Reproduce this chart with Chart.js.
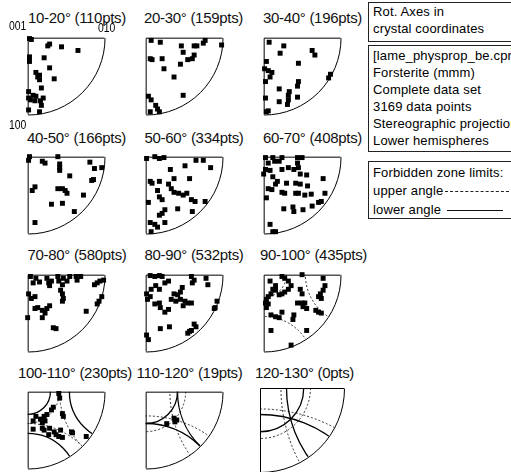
<!DOCTYPE html>
<html>
<head>
<meta charset="utf-8">
<script src="https://cdn.jsdelivr.net/npm/chart.js@4.4.0/dist/chart.umd.min.js"></script>
<style>
  html, body { margin: 0; padding: 0; background: #fff; overflow: hidden; }
  #wrap { position: relative; width: 511px; height: 472px; overflow: hidden; }
  canvas.pf { position: absolute; }
  .ttl { position: absolute; font: 15px "Liberation Sans", Arial, sans-serif; letter-spacing: -0.3px;
         line-height: 15px; white-space: nowrap; color: #111; transform: translateX(-50%); }
  .pole { position: absolute; font: 13px "Liberation Sans", Arial, sans-serif; line-height: 13px;
          color: #000; transform: scaleX(0.8); transform-origin: 0 0; white-space: nowrap; }
  .box { position: absolute; left: 368px; width: 160px; border: 1px solid #222; border-right: none; }
  .lg { position: absolute; left: 373px; font: 13px "Liberation Sans", Arial, sans-serif; letter-spacing: 0.15px;
        line-height: 17px; white-space: nowrap; color: #000; }
  .dash { position: absolute; height: 0; border-top: 1px dashed #222; }
  .solid { position: absolute; height: 0; border-top: 1px solid #111; }
</style>
</head>
<body>
<div id="wrap"></div>
<script>
// Misorientation rotation axes in crystal coordinates, one quarter stereogram per 10° bin.
// Coordinates: x towards [010], y towards [100], origin at [001]; primitive radius PROJ_R.
const PROJ_R = 84;

const binLow      = [10, 20, 30, 40, 50, 60, 70, 80, 90, 100, 110, 120];
const binHigh     = [20, 30, 40, 50, 60, 70, 80, 90, 100, 110, 120, 130];
const pointCounts = [110, 159, 196, 166, 334, 408, 580, 532, 435, 230, 19, 0];

// Half-angle (deg) of the forbidden cone around each 2-fold axis at a given rotation angle
const zoneAngles     = [100, 110, 120, 130];
const zoneHalfAngles = [33, 45, 55, 62];
const zonePoles      = ['001', '010', '100'];

const axes10to20 = [[2,1],[4,2],[24,7],[22,9],[37,10],[55,14],[2,21],[2,26],[18,22],[24,33],[9,38],[13,41],
  [13,46],[11,43],[29,45],[15,55],[1,59],[1,66],[6,63],[9,64],[17,66],[8,69],[3,68],[14,69],[1,79],[13,81],[15,74]];
const axes20to30 = [[6,3],[16,5],[5,23],[7,24],[18,23],[39,9],[41,16],[46,24],[38,29],[53,9],[56,9],[65,3],
  [63,6],[83,8],[53,19],[51,23],[20,34],[31,43],[41,63],[3,64],[11,74],[13,78],[15,81],[5,81],[6,68]];
const axes30to40 = [[6,5],[22,9],[18,17],[53,14],[56,19],[38,28],[3,26],[1,34],[5,36],[9,38],[7,43],[2,48],
  [38,48],[37,53],[17,56],[73,40],[71,44],[28,59],[27,63],[27,68],[26,73],[17,70],[37,65],[2,66],[3,81],[5,80]];
const axes40to50 = [[2,0],[1,4],[16,5],[19,7],[33,0],[35,8],[35,12],[68,6],[35,15],[73,13],[81,12],[72,25],
  [70,26],[46,21],[8,33],[5,37],[33,35],[38,35],[41,37],[61,42],[43,40],[26,52],[38,51],[51,60],[8,72]];
const axes50to60 = [[1,2],[10,0],[15,2],[20,1],[27,14],[43,10],[63,4],[55,4],[71,12],[5,27],[7,29],[15,27],
  [31,24],[48,24],[25,30],[13,37],[28,35],[31,39],[36,40],[41,42],[45,40],[15,44],[18,47],[50,47],[54,49],
  [65,49],[3,50],[21,58],[15,64],[18,62],[35,57],[51,60],[5,72],[10,74],[13,77],[21,72],[6,82]];
const axes60to70 = [[2,1],[10,1],[20,1],[5,7],[12,5],[17,5],[37,1],[42,1],[2,14],[7,15],[20,14],[27,12],
  [33,14],[38,12],[37,7],[0,19],[10,22],[15,27],[13,30],[40,19],[47,20],[25,29],[35,29],[40,30],[5,35],[9,36],
  [48,32],[65,24],[20,39],[23,40],[35,40],[38,40],[45,42],[52,41],[67,40],[63,49],[60,50],[3,45],[22,57],
  [32,55],[33,60],[43,58],[53,54],[7,74],[10,82],[13,82]];
const axes70to80 = [[3,2],[9,4],[6,9],[13,8],[21,4],[23,9],[26,7],[24,12],[33,2],[34,7],[38,11],[39,4],
  [43,7],[46,2],[53,2],[58,2],[54,6],[36,17],[38,21],[39,26],[38,29],[73,11],[76,9],[79,7],[83,6],[1,21],
  [8,24],[4,26],[81,24],[78,29],[76,32],[8,37],[11,36],[16,39],[21,37],[24,34],[19,42],[16,47],[0,47],
  [64,40],[28,58],[31,59]];
const axes80to90 = [[5,1],[10,2],[15,1],[18,2],[21,9],[25,7],[6,16],[11,12],[15,16],[1,21],[5,24],[2,27],
  [40,14],[38,19],[35,22],[31,21],[28,27],[33,29],[38,27],[43,29],[46,31],[50,31],[25,38],[21,41],[41,34],
  [10,32],[15,31],[16,36],[16,59],[26,57],[1,66],[3,71],[48,62],[50,2],[53,6],[51,9],[66,4],[68,11],[78,29],
  [76,36],[75,37],[53,54],[55,57],[50,61],[46,64]];
const axes90to100 = [[7,7],[10,16],[13,17],[8,21],[13,12],[20,2],[23,4],[27,7],[30,12],[27,16],[23,19],
  [20,21],[17,22],[5,24],[3,27],[2,31],[5,32],[3,36],[42,0],[40,16],[42,21],[37,31],[42,31],[45,31],[65,4],
  [67,12],[65,17],[62,21],[60,24],[63,26],[47,37],[43,35],[57,39],[60,41],[63,42],[20,41],[8,44],[13,46],
  [17,47],[33,44],[32,49],[8,61],[47,61],[30,77]];
const axes100to110 = [[34,2],[35,7],[28,17],[26,20],[18,27],[21,25],[14,30],[19,32],[16,34],[9,27],[6,32],
  [38,24],[39,27],[6,41],[16,40],[18,42],[24,40],[29,44],[31,47],[34,49],[38,50],[36,42],[23,47],[48,44],
  [49,45],[64,49]];
const axes110to120 = [[31,29],[34,31],[32,33],[23,35]];
const axes120to130 = [];

const binAxes = [axes10to20, axes20to30, axes30to40, axes40to50, axes50to60, axes60to70,
                 axes70to80, axes80to90, axes90to100, axes100to110, axes110to120, axes120to130];

// Layout of the 4 x 3 grid of stereograms ([001] corner of each one)
const colX = [24, 142, 260];
const rowY = [34, 153, 271, 388];
const titleCenters = [77, 193.5, 312.5, 76.5, 194, 312.5, 77, 194, 313.5, 75, 189.5, 304.5];
const titleTops = [10, 130, 247, 365];
const PAD = 4;

function halfAngleAt(omega) {
  const i = zoneAngles.indexOf(omega);
  return i < 0 ? null : zoneHalfAngles[i];
}

// Small circle of angular radius psi around a 2-fold axis, in stereographic coordinates
function poleCircle(pole, psiDeg) {
  const p = psiDeg * Math.PI / 180;
  if (pole === '001') return { cx: 0, cy: 0, r: PROJ_R * Math.tan(p / 2) };
  if (pole === '010') return { cx: PROJ_R / Math.cos(p), cy: 0, r: PROJ_R * Math.tan(p) };
  return { cx: 0, cy: PROJ_R / Math.cos(p), r: PROJ_R * Math.tan(p) };
}

const stereoFrame = {
  id: 'stereoFrame',
  beforeDatasetsDraw(chart, args, opts) {
    const { ctx, scales: { x, y } } = chart;
    const ox = x.getPixelForValue(0), oy = y.getPixelForValue(0);
    const r = x.getPixelForValue(PROJ_R) - ox;
    const unit = x.getPixelForValue(1) - ox;

    // forbidden-zone limits, clipped to the quarter disc
    ctx.save();
    ctx.beginPath();
    ctx.moveTo(ox, oy);
    ctx.lineTo(ox + r, oy);
    ctx.arc(ox, oy, r, 0, Math.PI / 2);
    ctx.closePath();
    ctx.clip();
    const drawSet = (psi, dashed) => {
      if (psi == null) return;
      ctx.setLineDash(dashed ? [2, 2] : []);
      ctx.lineWidth = dashed ? 1 : 1.3;
      ctx.strokeStyle = dashed ? '#333' : '#000';
      zonePoles.forEach(pole => {
        const c = poleCircle(pole, psi);
        ctx.beginPath();
        ctx.arc(x.getPixelForValue(c.cx), y.getPixelForValue(c.cy), c.r * unit, 0, Math.PI * 2);
        ctx.stroke();
      });
    };
    drawSet(halfAngleAt(opts.high), true);
    drawSet(halfAngleAt(opts.low), false);
    ctx.restore();

    // primitive quadrant frame
    ctx.save();
    ctx.strokeStyle = '#000';
    ctx.lineWidth = 1;
    ctx.setLineDash([]);
    ctx.beginPath();
    ctx.moveTo(ox + r, oy + 0.5);
    ctx.lineTo(ox + 0.5, oy + 0.5);
    ctx.lineTo(ox + 0.5, oy + r);
    ctx.stroke();
    ctx.beginPath();
    ctx.arc(ox + 0.5, oy + 0.5, r, 0, Math.PI / 2);
    ctx.stroke();
    ctx.restore();
  }
};

const wrap = document.getElementById('wrap');

binAxes.forEach((pts, i) => {
  const col = i % 3, row = Math.floor(i / 3);
  const cv = document.createElement('canvas');
  const size = PROJ_R + 2 * PAD + 2;
  cv.width = size; cv.height = size;
  cv.className = 'pf';
  cv.style.left = (colX[col] - PAD) + 'px';
  cv.style.top = (rowY[row] - PAD) + 'px';
  wrap.appendChild(cv);

  new Chart(cv, {
    type: 'scatter',
    data: {
      datasets: [{
        data: pts.map(([a, b]) => ({ x: a, y: b })),
        pointStyle: 'rect',
        pointRadius: 3.5,
        pointBorderWidth: 0,
        backgroundColor: '#000',
        borderColor: '#000',
        clip: false
      }]
    },
    options: {
      responsive: false,
      animation: false,
      events: [],
      layout: { padding: 0 },
      scales: {
        x: { type: 'linear', display: false, min: -PAD, max: size - PAD },
        y: { type: 'linear', display: false, min: -PAD, max: size - PAD, reverse: true }
      },
      plugins: {
        legend: { display: false },
        tooltip: { enabled: false },
        stereoFrame: { low: binLow[i], high: binHigh[i] }
      }
    },
    plugins: [stereoFrame]
  });

  const t = document.createElement('div');
  t.className = 'ttl';
  t.textContent = binLow[i] + '-' + binHigh[i] + '° (' + pointCounts[i] + 'pts)';
  t.style.left = titleCenters[i] + 'px';
  t.style.top = titleTops[row] + 'px';
  wrap.appendChild(t);
});

// axis labels of the first stereogram
[['001', 9, 19], ['010', 98, 21], ['100', 9, 118]].forEach(([txt, l, tp]) => {
  const d = document.createElement('div');
  d.className = 'pole';
  d.textContent = txt;
  d.style.left = l + 'px';
  d.style.top = tp + 'px';
  wrap.appendChild(d);
});

// information boxes
const infoHeader = ['Rot. Axes in', 'crystal coordinates'];
const infoLines = ['[lame_physprop_be.cpr]', 'Forsterite (mmm)', 'Complete data set',
                   '3169 data points', 'Stereographic projection', 'Lower hemispheres'];
const zoneLegend = ['Forbidden zone limits:', 'upper angle', 'lower angle'];

function addBox(top, height) {
  const b = document.createElement('div');
  b.className = 'box';
  b.style.top = top + 'px';
  b.style.height = height + 'px';
  wrap.appendChild(b);
}
function addLine(txt, centerY) {
  const d = document.createElement('div');
  d.className = 'lg';
  d.textContent = txt;
  d.style.top = (centerY - 8.5) + 'px';
  wrap.appendChild(d);
}
addBox(2, 38);
infoHeader.forEach((t, k) => addLine(t, 11 + 17 * k));
addBox(45, 105);
infoLines.forEach((t, k) => addLine(t, 55 + 17 * k));
addBox(161, 56);
zoneLegend.forEach((t, k) => addLine(t, 172 + 18.5 * k));

const up = document.createElement('div');
up.className = 'dash';
up.style.left = '445px'; up.style.width = '64px'; up.style.top = '191px';
wrap.appendChild(up);
const lo = document.createElement('div');
lo.className = 'solid';
lo.style.left = '447px'; lo.style.width = '56px'; lo.style.top = '210px';
wrap.appendChild(lo);
</script>
</body>
</html>
